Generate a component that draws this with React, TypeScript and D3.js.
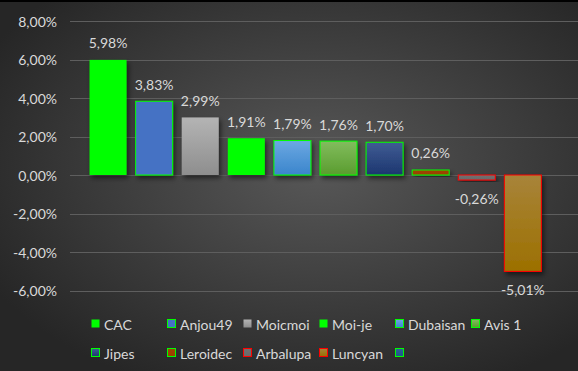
import * as React from 'react';
import * as d3 from 'd3';
import {useEffect, useRef} from 'react';

const categories = ['CAC', 'Anjou49', 'Moicmoi', 'Moi-je', 'Dubaisan', 'Avis 1', 'Jipes', 'Leroidec', 'Arbalupa', 'Luncyan', ''];
const values: (number | null)[] = [5.98, 3.83, 2.99, 1.91, 1.79, 1.76, 1.70, 0.26, -0.26, -5.01, null];
const yTicks = [-6, -4, -2, 0, 2, 4, 6, 8];

// fill: [top, bottom] colours, stroke colour or null
const fills: [string, string][] = [
    ['#00ff00', '#00ff00'],
    ['#4472c4', '#4472c4'],
    ['#b4b4b4', '#8e8e8e'],
    ['#00ff00', '#00ff00'],
    ['#6ca8e2', '#3a85cc'],
    ['#82bd5e', '#5a9c2e'],
    ['#405c94', '#1c366f'],
    ['#a04400', '#9a4000'],
    ['#707070', '#6a6a6a'],
    ['#a8843a', '#9c7000'],
    ['#2a6296', '#1f5589'],
];
const strokes: (string | null)[] = [null, '#00ff00', null, null, '#00ff00', '#00ff00', '#00ff00', '#00ff00', '#ff0000', '#ff0000', '#00ff00'];

const W = 578;
const H = 371;
const FONT = 'Lato, "Open Sans", sans-serif';
const TEXT = '#d9d9d9';

function fmt(v: number): string {
    return v.toFixed(2).replace('.', ',') + '%';
}

export default function App() {
    const svgRef = useRef<SVGSVGElement>(null);

    useEffect(() => {
        const svg = d3.select(svgRef.current);
        svg.selectAll('*').remove();
        const defs = svg.append('defs');

        const bg = defs.append('radialGradient').attr('id', 'bg')
            .attr('cx', '55%').attr('cy', '45%').attr('r', '65%');
        bg.append('stop').attr('offset', '0%').attr('stop-color', '#585858');
        bg.append('stop').attr('offset', '100%').attr('stop-color', '#262626');

        fills.forEach((f, i) => {
            const g = defs.append('linearGradient').attr('id', 'g' + i)
                .attr('x1', 0).attr('y1', 0).attr('x2', 0).attr('y2', 1);
            g.append('stop').attr('offset', '0%').attr('stop-color', f[0]);
            g.append('stop').attr('offset', '100%').attr('stop-color', f[1]);
        });

        const shadow = defs.append('filter').attr('id', 'shadow')
            .attr('x', '-30%').attr('y', '-30%').attr('width', '160%').attr('height', '160%');
        shadow.append('feDropShadow').attr('dx', 2).attr('dy', 3)
            .attr('stdDeviation', 2.5).attr('flood-color', '#000').attr('flood-opacity', 0.55);

        svg.append('rect').attr('width', W).attr('height', H).attr('fill', 'url(#bg)');
        svg.append('rect').attr('width', W).attr('height', 2).attr('fill', '#000');

        const y = d3.scaleLinear().domain([-6, 8]).range([290.5, 21]);
        const x = d3.scaleBand<string>().domain(categories).range([85, 592])
            .paddingInner(0.176).paddingOuter(0.088);

        const grid = svg.append('g');
        grid.selectAll('line').data(yTicks).enter().append('line')
            .attr('x1', 70).attr('x2', W)
            .attr('y1', (d) => Math.round(y(d)) + 0.5)
            .attr('y2', (d) => Math.round(y(d)) + 0.5)
            .attr('stroke', '#5e5e5e').attr('stroke-width', 1);

        svg.append('g').selectAll('text').data(yTicks).enter().append('text')
            .attr('x', 57).attr('y', (d) => y(d))
            .attr('text-anchor', 'end').attr('dominant-baseline', 'central')
            .attr('font-family', FONT).attr('font-size', 14).attr('fill', TEXT)
            .text((d) => fmt(d));

        const idx = d3.range(categories.length).filter((i) => values[i] !== null);

        svg.append('g').selectAll('rect').data(idx).enter().append('rect')
            .attr('x', (i) => x(categories[i])! + 0.5)
            .attr('width', x.bandwidth() - 1)
            .attr('y', (i) => y(Math.max(0, values[i]!)))
            .attr('height', (i) => Math.abs(y(values[i]!) - y(0)))
            .attr('fill', (i) => `url(#g${i})`)
            .attr('stroke', (i) => strokes[i] || 'none')
            .attr('stroke-width', 1)
            .attr('filter', 'url(#shadow)');

        svg.append('g').selectAll('text').data(idx).enter().append('text')
            .attr('x', (i) => x(categories[i])! + x.bandwidth() / 2)
            .attr('y', (i) => values[i]! >= 0 ? y(values[i]!) - 17 : y(values[i]!) + 18)
            .attr('text-anchor', 'middle').attr('dominant-baseline', 'central')
            .attr('font-family', FONT).attr('font-size', 14).attr('fill', TEXT)
            .text((i) => fmt(values[i]!));

        const legend = svg.append('g');
        const items = legend.selectAll('g').data(d3.range(categories.length)).enter().append('g')
            .attr('transform', (i) => `translate(${91 + (i % 6) * 76} ${i < 6 ? 324 : 353})`);
        items.append('rect')
            .attr('x', 0.5).attr('y', -4.5).attr('width', 8).attr('height', 8)
            .attr('fill', (i) => `url(#g${i})`)
            .attr('stroke', (i) => strokes[i] || 'none')
            .attr('stroke-width', 1);
        items.append('text')
            .attr('x', 13).attr('y', 0)
            .attr('dominant-baseline', 'central')
            .attr('font-family', FONT).attr('font-size', 14).attr('fill', TEXT)
            .text((i) => categories[i]);
    }, []);

    return (
        <svg ref={svgRef} width={W} height={H} viewBox={`0 0 ${W} ${H}`}
             style={{position: 'absolute', left: 0, top: 0}}/>
    );
}
